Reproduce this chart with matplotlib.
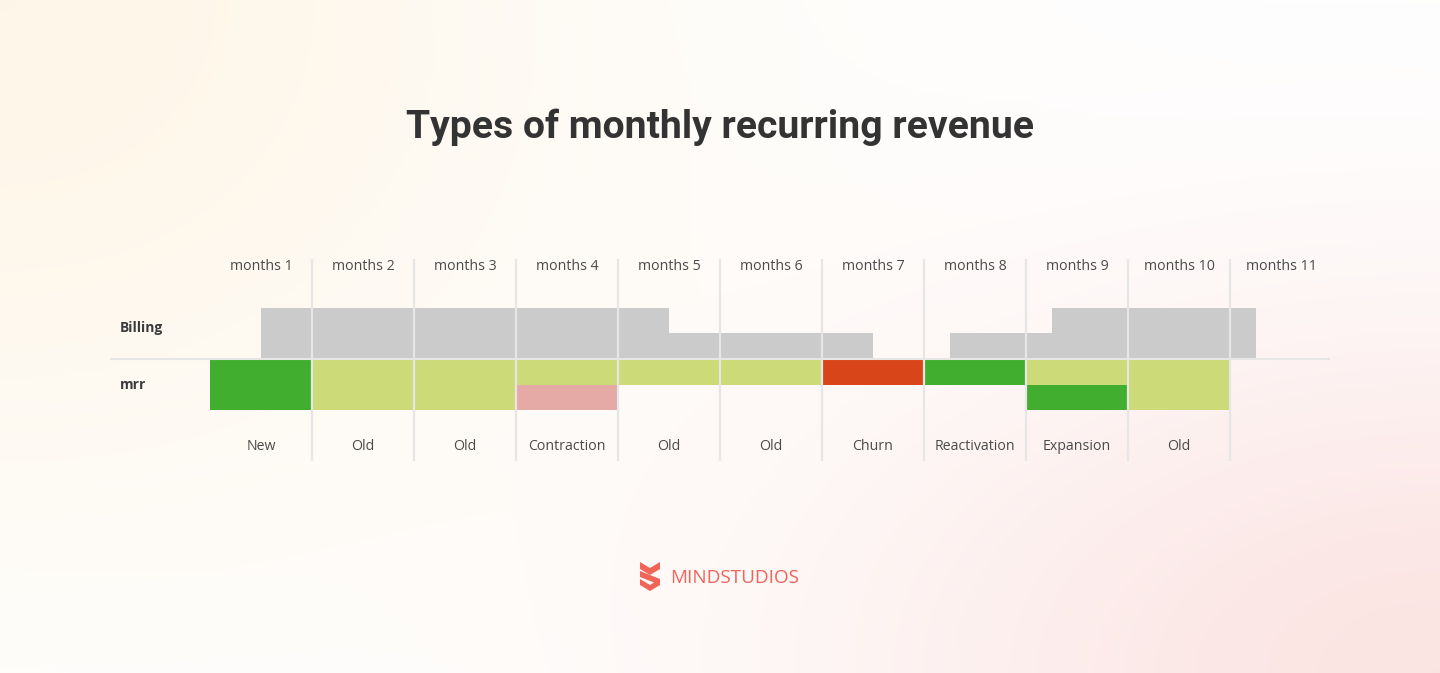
import numpy as np
import matplotlib
matplotlib.use("Agg")
import matplotlib.pyplot as plt
from matplotlib.patches import Polygon

# ---------------- data ----------------
month_labels = ["months 1", "months 2", "months 3", "months 4", "months 5", "months 6",
                "months 7", "months 8", "months 9", "months 10", "months 11"]
mrr_types = ["New", "Old", "Old", "Contraction", "Old", "Old",
             "Churn", "Reactivation", "Expansion", "Old"]

# billing segments (in month units, offset by the billing date)
billing_start = [0.5, 4.5, 7.25, 8.25]
billing_width = [4.0, 2.0, 1.0, 2.0]
billing_level = [1.0, 0.5, 0.5, 1.0]

# mrr per month: upper half and lower half category
mrr_upper = ["new", "old", "old", "old", "old", "old", "churn", "new", "old", "old"]
mrr_lower = ["new", "old", "old", "contraction", None, None, None, None, "new", "old"]
mrr_half = 0.5

palette = {"new": "#41ae2f", "old": "#cdda78", "contraction": "#e5a9a6", "churn": "#d84518"}
billing_color = "#cbcbcb"
grid_color = "#e6e6e6"

# ---------------- figure ----------------
W, H = 1440, 673
fig = plt.figure(figsize=(W / 100, H / 100), dpi=100)

# background gradient
bg = fig.add_axes([0, 0, 1, 1], zorder=-10)
yy, xx = np.mgrid[0:H, 0:W].astype(float)
img = np.ones((H, W, 3))
cream = np.array([254, 246, 232]) / 255.0
pink = np.array([251, 229, 227]) / 255.0
w1 = np.exp(-((xx / 650.0) ** 2 + (yy / 560.0) ** 2) * 1.1)
w2 = np.exp(-(((W - xx) / 700.0) ** 2 + ((H - yy) / 420.0) ** 2) * 1.3)
for c in range(3):
    img[..., c] = 1 - w1 * (1 - cream[c]) - w2 * (1 - pink[c])
bg.imshow(np.clip(img, 0, 1), aspect="auto", extent=[0, W, H, 0])
bg.set_axis_off()

# main axes: x in months, y in value units (50 px per unit)
x0_px, x1_px = 110, 1330
top_px, bot_px = 258, 463
ax = fig.add_axes([x0_px / W, (H - bot_px) / H, (x1_px - x0_px) / W, (bot_px - top_px) / H])
ax.set_xlim((x0_px - 210) / 102.0, (x1_px - 210) / 102.0)
ax.set_ylim(-(bot_px - 358) / 50.0, (358 - top_px) / 50.0)
ax.set_axis_off()

gap = 0.04  # thin separator between billing and mrr rows

# billing bars
ax.bar(billing_start, billing_level, width=billing_width, align="edge",
       color=billing_color, linewidth=0, zorder=2)

# mrr bars
x_cent = np.arange(len(mrr_upper)) + 0.5
for i, (u, l) in enumerate(zip(mrr_upper, mrr_lower)):
    if u:
        ax.bar(x_cent[i], -mrr_half, bottom=-gap, width=1.0, color=palette[u], linewidth=0, zorder=2)
    if l:
        ax.bar(x_cent[i], -mrr_half, bottom=-gap - mrr_half, width=1.0, color=palette[l],
               linewidth=0, zorder=2)

# grid lines
ax.axhline(-gap / 2, color=grid_color, lw=1.5, zorder=3)
ax.vlines(np.arange(1, len(month_labels)), -2.06, 1.98, color=grid_color, lw=1.6, zorder=3)

font = "Open Sans"
text_col = "#4a4a4a"
for i, m in enumerate(month_labels):
    ax.text(i + 0.5, 1.83, m, ha="center", va="center", fontsize=10.2,
            color=text_col, family=font)
for i, t in enumerate(mrr_types):
    ax.text(i + 0.5, -1.77, t, ha="center", va="center", fontsize=10.2,
            color=text_col, family=font)

ax.text((120 - 210) / 102.0, 0.6, "Billing", ha="left", va="center", fontsize=9.9,
        fontweight="bold", color="#3a3a3a", family=font)
ax.text((120 - 210) / 102.0, -0.54, "mrr", ha="left", va="center", fontsize=9.9,
        fontweight="bold", color="#3a3a3a", family=font)

# title
fig.text(0.5, 1 - 127 / H, "Types of monthly recurring revenue", ha="center", va="center",
         fontsize=28.2, fontweight="bold", color="#333333", family="Roboto")

# logo
logo_col = "#f0645a"
def px(x, y):
    return ((640 + x) / W, 1 - (562 + y) / H)
piece1 = [(0, 0), (10, 6), (20, 0), (20, 7), (10, 13), (0, 7)]
piece2 = [(0, 9), (20, 17), (20, 23), (10, 29), (0, 23), (0, 17), (10, 23), (14, 20.5), (0, 15)]
for pc in (piece1, piece2):
    fig.patches.append(Polygon([px(*p) for p in pc], closed=True, transform=fig.transFigure,
                               facecolor=logo_col, edgecolor="none"))
fig.text(670 / W, 1 - 578 / H, "MINDSTUDIOS", ha="left", va="center", fontsize=13.6,
         color=logo_col, family=font)

fig.savefig("out.png", dpi=100)
